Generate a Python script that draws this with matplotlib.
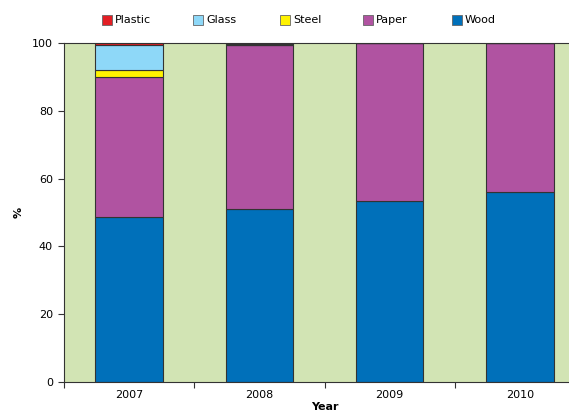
import matplotlib
matplotlib.use("Agg")
import matplotlib.pyplot as plt
from matplotlib.patches import Rectangle
import numpy as np

years = ["2007", "2008", "2009", "2010"]
wood = [48.6, 51.1, 53.3, 55.9]
paper = [41.4, 48.3, 46.7, 44.1]
steel = [2.0, 0.0, 0.0, 0.0]
glass = [7.4, 0.4, 0.0, 0.0]
plastic = [0.6, 0.2, 0.0, 0.0]

series = [("Wood", wood, "#0070BA"),
          ("Paper", paper, "#B053A1"),
          ("Steel", steel, "#FFF200"),
          ("Glass", glass, "#8ED8F8"),
          ("Plastic", plastic, "#E31E24")]

plt.rcParams["font.family"] = ["DejaVu Sans"]
plt.rcParams["font.size"] = 8

fig = plt.figure(figsize=(5.69, 4.12), dpi=100)
ax = fig.add_axes([64 / 569, 30 / 412, 521 / 569, 339 / 412])
ax.set_facecolor("#D2E4B4")

x = np.arange(len(years))
bottom = np.zeros(len(years))
for name, vals, col in series:
    vals = np.array(vals)
    ax.bar(x, vals, 0.52, bottom=bottom, color=col, edgecolor="#333333", linewidth=0.8)
    bottom += vals

ax.set_xlim(-0.5, 3.5)
ax.set_ylim(0, 100)
ax.set_yticks([0, 20, 40, 60, 80, 100])
ax.set_xticks(x)
ax.set_xticklabels(years)
ax.set_xticks(np.arange(-0.5, 4, 1), minor=True)
ax.tick_params(axis="x", which="major", length=0, pad=6)
ax.tick_params(axis="x", which="minor", length=4, width=0.8, color="#333333")
ax.tick_params(axis="y", length=4, width=0.8, color="#333333", pad=4)
for s in ax.spines.values():
    s.set_color("#333333")
    s.set_linewidth(0.8)

ax.set_xlabel("Year", fontweight="bold", labelpad=1)
ax.set_ylabel("%", fontweight="bold", labelpad=6)

# legend along the top
leg_x = [107, 198, 285, 368, 457]
for (name, vals, col), lx in zip(series[::-1], leg_x):
    fig.patches.append(Rectangle((lx / 569 - 5 / 569, 1 - 25 / 412), 10 / 569, 10 / 412,
                                 transform=fig.transFigure, facecolor=col,
                                 edgecolor="#666666", linewidth=0.6))
    fig.text(lx / 569 + 8 / 569, 1 - 20 / 412, name, va="center", ha="left", fontsize=8)

fig.savefig("out.png", dpi=100)
